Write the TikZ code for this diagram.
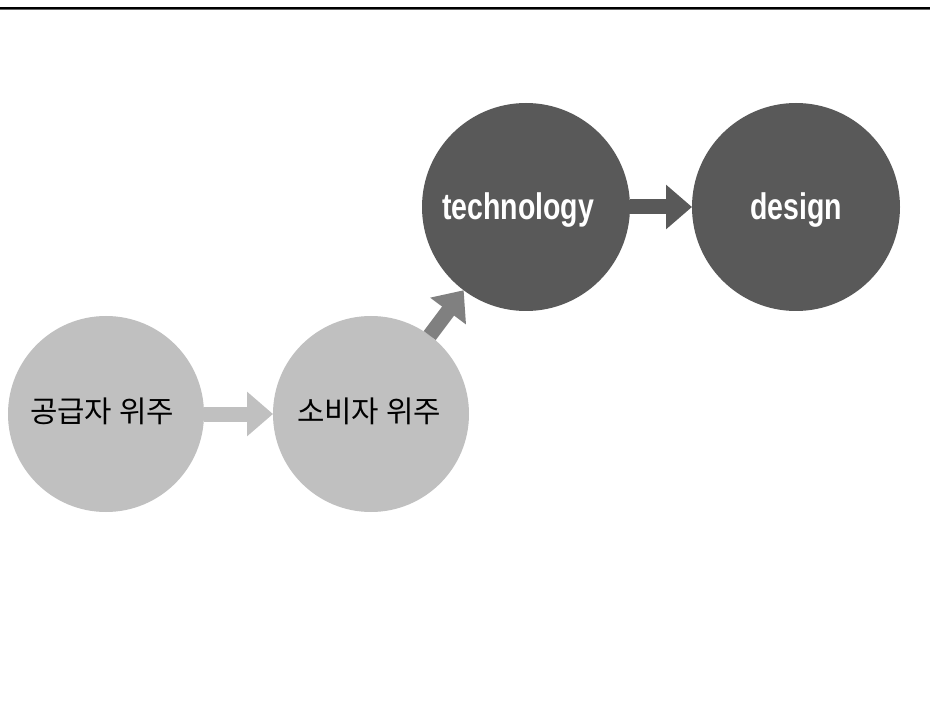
\documentclass[tikz,border=0pt]{standalone}
\usepackage{fontspec}
\setmainfont{Liberation Sans}
\newfontfamily\krfont{Noto Sans CJK KR}
\newfontfamily\condfont{Liberation Sans}[FakeStretch=0.77]
\usetikzlibrary{arrows.meta}
\definecolor{lightc}{HTML}{C0C0C0}
\definecolor{darkc}{HTML}{595959}
\definecolor{midc}{HTML}{808080}
\tikzset{
  lightball/.style={circle, fill=lightc, minimum size=196pt, inner sep=0pt, outer sep=0pt},
  lighttext/.style={font=\krfont\fontsize{29.8}{32}\selectfont, text=black, inner sep=0pt},
  darkball/.style={circle, fill=darkc, minimum size=208pt, inner sep=0pt, outer sep=0pt},
  darktext/.style={font=\condfont\bfseries\fontsize{37}{40}\selectfont, text=white, inner sep=0pt},
  blockarrow/.style={line width=15pt, line cap=butt,
    -{Triangle[length=26pt,width=43pt]}},
}
\begin{document}
\begin{tikzpicture}[x=1pt,y=1pt]
\useasboundingbox (0,0) rectangle (930,-722);
\fill[white] (0,0) rectangle (930,-722);
% top rule
\coordinate (rl) at (0,-8);
\coordinate (rr) at (930,-8);
\draw[line width=2.4pt, black] (rl) -- (rr);
\draw[line width=0.6pt, black!60] ([yshift=-1.8pt]rl) -- ([yshift=-1.8pt]rr);
% nodes
\node[lightball] (sup) at (106,-414) {};
\node[lightball] (con) at (371,-414) {};
\node[darkball] (tech) at (526,-207) {};
\node[darkball] (des) at (796,-207) {};
\node[lighttext] (supt) at (102,-411) {공급자 위주};
\node[lighttext] (cont) at (369,-411) {소비자 위주};
\node[darktext] (techt) at (518,-210) {technology};
\node[darktext] (dest) at (796,-210) {design};
% arrows
\draw[blockarrow, lightc] (sup) -- (con);
\draw[blockarrow, midc] (con) -- (tech);
\draw[blockarrow, darkc] (tech) -- (des);
\end{tikzpicture}
\end{document}
